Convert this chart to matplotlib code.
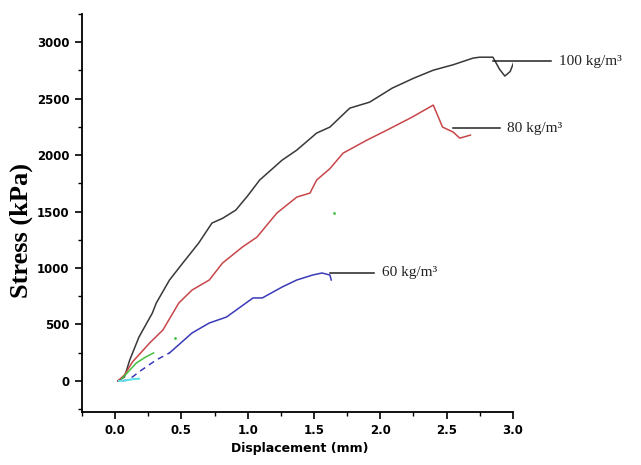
""" Stress vs displacement curves for three foam densities """
import numpy as np
import matplotlib
matplotlib.use('Agg')
import matplotlib.pyplot as plt
from matplotlib.ticker import MultipleLocator

# 100 kg/m3 curve (black)
disp_100 = [0.02, 0.07, 0.11, 0.18, 0.28, 0.31, 0.41, 0.51, 0.63, 0.73, 0.81, 0.91,
            1.0, 1.09, 1.26, 1.37, 1.52, 1.62, 1.77, 1.92, 2.09, 2.25, 2.40, 2.55,
            2.70, 2.75, 2.85, 2.90, 2.94, 2.98, 3.01]
stress_100 = [0, 35, 186, 390, 600, 690, 894, 1044, 1221, 1398, 1440, 1513,
              1640, 1779, 1956, 2044, 2195, 2248, 2416, 2469, 2593, 2680, 2752, 2800,
              2859, 2867, 2867, 2760, 2700, 2740, 2830]

# 80 kg/m3 curve (red)
disp_80 = [0.02, 0.07, 0.13, 0.26, 0.36, 0.48, 0.58, 0.71, 0.81, 0.96, 1.07, 1.22,
           1.37, 1.47, 1.52, 1.62, 1.72, 1.90, 2.05, 2.24, 2.40, 2.47, 2.55, 2.60, 2.68]
stress_80 = [0, 53, 168, 336, 451, 690, 805, 894, 1044, 1186, 1274, 1487,
             1628, 1664, 1779, 1880, 2018, 2133, 2221, 2336, 2443, 2248, 2204, 2150, 2177]

# 60 kg/m3 curve (blue), first part drawn dashed
disp_60_start = [0.05, 0.10, 0.20, 0.31, 0.41]
stress_60_start = [0, 9, 97, 186, 248]
disp_60 = [0.41, 0.58, 0.71, 0.84, 1.04, 1.11, 1.26, 1.37, 1.49, 1.56, 1.62, 1.63]
stress_60 = [248, 425, 513, 566, 735, 735, 832, 894, 938, 956, 938, 894]

# short green and cyan traces near origin
disp_green = [0.05, 0.16, 0.23, 0.29]
stress_green = [20, 159, 212, 248]
disp_cyan = [0.03, 0.08, 0.13, 0.18]
stress_cyan = [0, 5, 15, 20]

# leader lines: (x start, x end, y, label)
labels = [(2.85, 3.29, 2830, '100 kg/m³'),
          (2.55, 2.90, 2239, '80 kg/m³'),
          (1.62, 1.95, 956, '60 kg/m³')]

x_ticks = [0.0, 0.5, 1.0, 1.5, 2.0, 2.5, 3.0]
y_ticks = [0, 500, 1000, 1500, 2000, 2500, 3000]

fig = plt.figure(figsize=(6.41, 4.65), dpi=100)
ax = fig.add_axes([0.128, 0.114, 0.672, 0.856])

ax.plot(disp_100, stress_100, color='#383838', lw=1.1)
ax.plot(disp_80, stress_80, color='#c8464a', lw=1.1)
ax.plot(disp_60_start, stress_60_start, color='#3a3ab8', lw=1.1, dashes=(4, 3))
ax.plot(disp_60, stress_60, color='#3a3ab8', lw=1.1)
ax.plot(disp_green, stress_green, color='#44c040', lw=1.1)
ax.plot(disp_cyan, stress_cyan, color='#60e0e8', lw=1.5)
ax.plot([0.45, 1.65], [380, 1490], ls='none', marker='.', ms=2, color='#44c040')

for x0, x1, y, txt in labels:
    ax.plot([x0, x1], [y, y], color='#222222', lw=1.1, clip_on=False)
    ax.text(x1 + 0.06, y, txt, family='Liberation Serif', fontsize=11,
            va='center', ha='left', color='#222222', clip_on=False)

ax.set_xlim(-0.25, 3.0)
ax.set_ylim(-275, 3250)
ax.set_xticks(x_ticks)
ax.set_xticklabels(['%.1f' % v for v in x_ticks])
ax.set_yticks(y_ticks)
ax.set_yticklabels([str(v) for v in y_ticks])
ax.xaxis.set_minor_locator(MultipleLocator(0.25))
ax.yaxis.set_minor_locator(MultipleLocator(250))
ax.tick_params(which='major', length=5, width=1.2, labelsize=8.5)
ax.tick_params(axis='y', which='major', pad=4)
ax.tick_params(axis='x', which='major', pad=4)
ax.tick_params(which='minor', length=3, width=1.0)
for lab in ax.get_xticklabels() + ax.get_yticklabels():
    lab.set_fontweight('bold')

ax.spines['top'].set_visible(False)
ax.spines['right'].set_visible(False)
ax.spines['left'].set_linewidth(1.3)
ax.spines['bottom'].set_linewidth(1.3)

ax.set_xlabel('Displacement (mm)', fontsize=9, fontweight='bold')
ax.xaxis.set_label_coords(0.506, -0.076)
ax.set_ylabel('Stress (kPa)', family='Liberation Serif', fontsize=19, fontweight='bold')
ax.yaxis.set_label_coords(-0.115, 0.455)

plt.savefig('out.png', dpi=100)
